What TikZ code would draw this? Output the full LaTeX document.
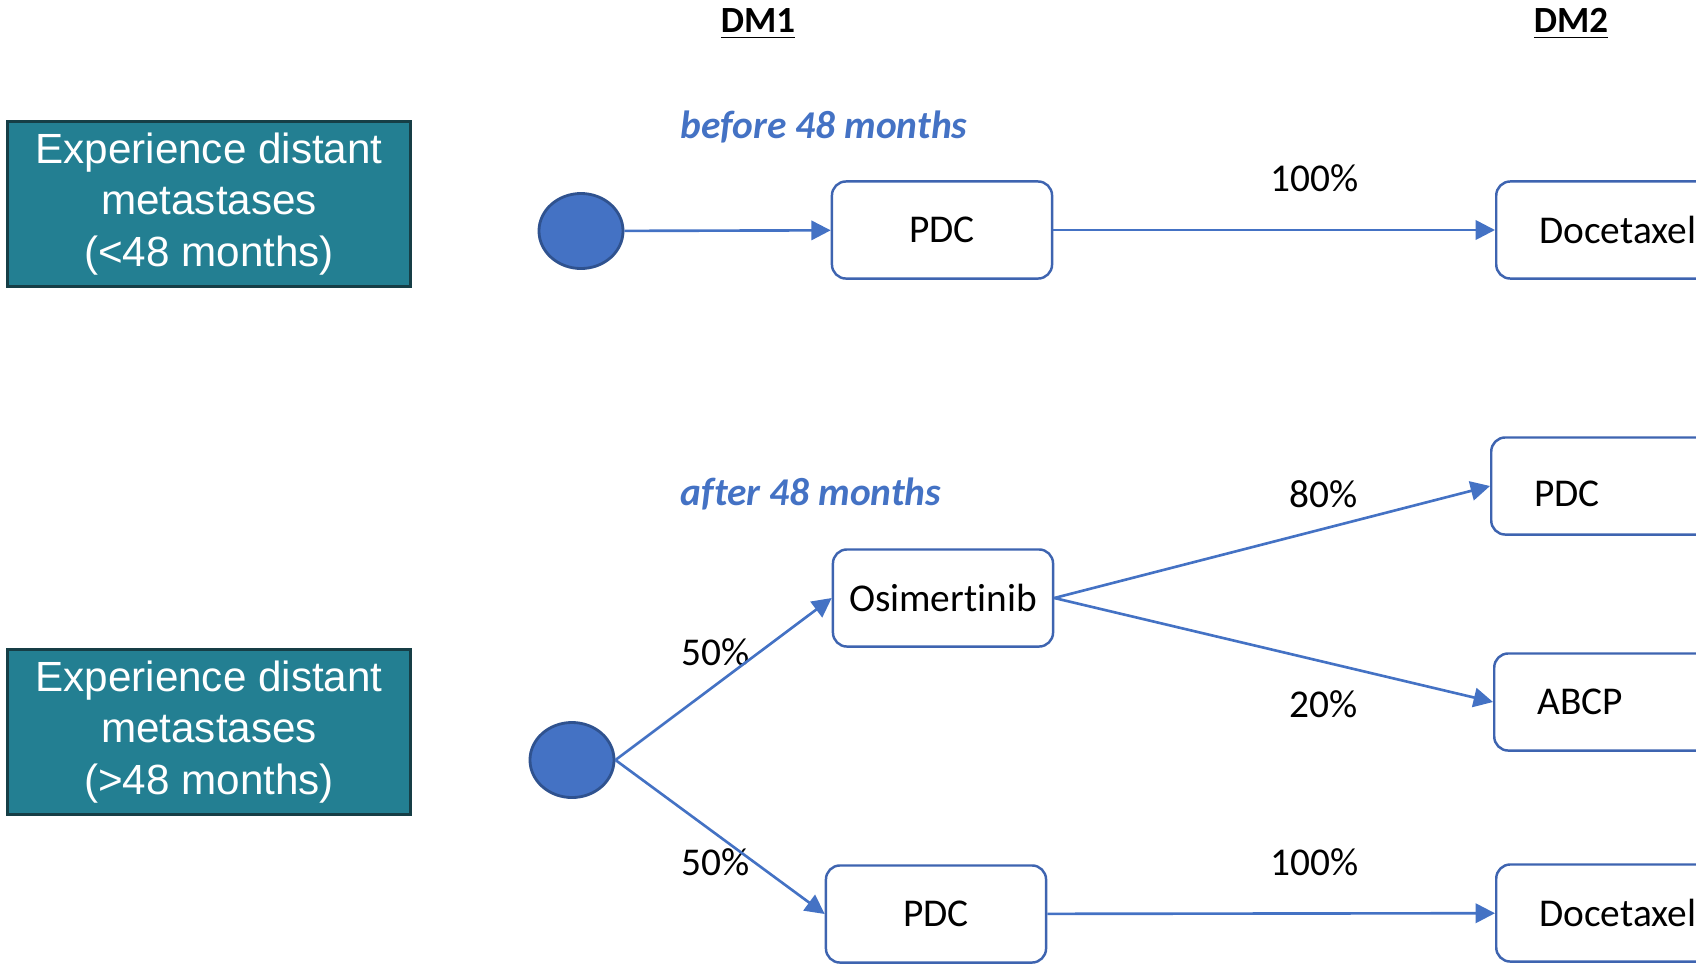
\documentclass[tikz,border=0pt]{standalone}
\usepackage{fontspec}
\setmainfont{Carlito}[Ligatures={NoCommon}]
\newfontfamily\arialfont{Liberation Sans}
\usepackage{tikz}
\usetikzlibrary{arrows.meta, positioning, shapes.geometric}
\definecolor{tealbox}{HTML}{237F92}
\definecolor{tealedge}{HTML}{163E46}
\definecolor{nodeblue}{HTML}{4472C4}
\definecolor{nodeedge}{HTML}{2F528F}
\definecolor{boxedge}{HTML}{3E64B0}

\begin{document}
\begin{tikzpicture}[x=0.01cm, y=-0.01cm,
      grp/.style={rectangle, draw=tealedge, fill=tealbox, line width=0.8pt, text=white, align=center, font=\arialfont\fontsize{12}{14.6}\selectfont, minimum width=4.02cm, minimum height=1.6cm},
      chance/.style={ellipse, draw=nodeedge, fill=nodeblue, line width=0.8pt, minimum width=0.84cm, minimum height=0.75cm, inner sep=0pt},
      trt/.style={rectangle, draw=boxedge, rounded corners=0.14cm, line width=0.7pt, font=\fontsize{11.2}{13.5}\selectfont, minimum width=2.2cm, minimum height=0.97cm},
      trtr/.style={trt, anchor=west, text width=2.2cm, align=left, inner xsep=0.43cm},
      head/.style={font=\bfseries\fontsize{10.5}{12}\selectfont, inner sep=0pt},
      pct/.style={font=\fontsize{11.2}{13.5}\selectfont, inner sep=0pt},
      note/.style={font=\bfseries\itshape\fontsize{11.2}{13.5}\selectfont, text=nodeblue, inner sep=0pt},
      arr/.style={-{Triangle[length=5.5pt, width=5.5pt]}, line width=0.75pt, nodeblue}]
    \useasboundingbox (0,0) rectangle (1696,963);
    \clip (0,0) rectangle (1696,963);

    % group boxes on the left
    \node[grp] (early) at (209,204) {Experience distant\\metastases\\(<48 months)};
    \node[grp] (late) at (209,732) {Experience distant\\metastases\\(>48 months)};

    % column heads
    \node[head] (dm1) at (758,24) {\underline{DM1}};
    \node[head] (dm2) at (1571,24) {\underline{DM2}};

    % early branch
    \node[note] (before) at (824,127) {before 48 months};
    \node[chance] (c1) at (581,231) {};
    \node[trt] (pdc1) at (942,230) {PDC};
    \node[trtr] (doc1) at (1495,230) {Docetaxel};
    \node[pct] (p1) at (1315,178) {100\%};
    \draw[arr] (c1) -- (pdc1);
    \draw[arr] (pdc1) -- (doc1);

    % late branch
    \node[note] (after) at (811,494) {after 48 months};
    \node[chance] (c2) at (572,760) {};
    \node[trt] (osim) at (943,598) {Osimertinib};
    \node[trt] (pdc2) at (936,914) {PDC};
    \node[trtr, text height=0.42cm] (pdc3) at (1490,486) {PDC};
    \node[trtr] (abcp) at (1493,702) {ABCP};
    \node[trtr] (doc2) at (1495,913) {Docetaxel};
    \node[pct] (p2) at (716,652) {50\%};
    \node[pct] (p3) at (716,862) {50\%};
    \node[pct] (p4) at (1324,494) {80\%};
    \node[pct] (p5) at (1324,704) {20\%};
    \node[pct] (p6) at (1315,862) {100\%};
    \draw[arr] (c2.east) -- (osim.west);
    \draw[arr] (c2.east) -- (pdc2.west);
    \draw[arr] (osim.east) -- (pdc3.west);
    \draw[arr] (osim.east) -- (abcp.west);
    \draw[arr] (pdc2) -- (doc2);
  \end{tikzpicture}
\end{document}
